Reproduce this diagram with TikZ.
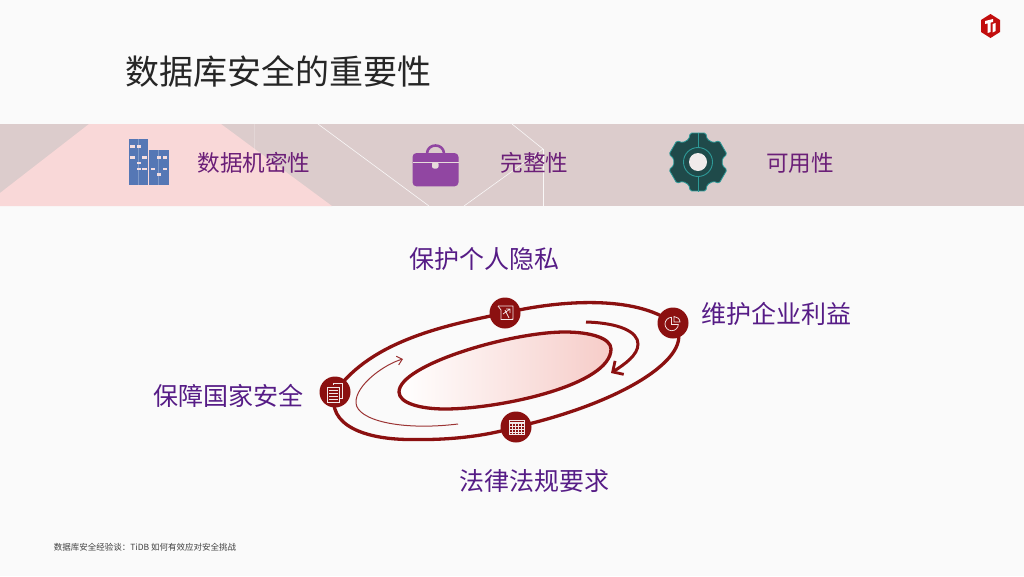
\documentclass[tikz,border=0pt]{standalone}
\usepackage{fontspec}
\setmainfont{Noto Sans CJK SC}
\usetikzlibrary{arrows.meta,backgrounds}
\definecolor{pagebg}{HTML}{FAFAFA}
\definecolor{bandc}{HTML}{DCCCCC}
\definecolor{pinkc}{HTML}{F9D8D8}
\definecolor{darkred}{HTML}{8B1010}
\definecolor{purpleA}{HTML}{6B1F78}
\definecolor{purpleB}{HTML}{561C86}
\definecolor{bluec}{HTML}{5577B5}
\definecolor{bagc}{HTML}{9146A2}
\definecolor{gearc}{HTML}{1F4A4A}
\definecolor{gearl}{HTML}{2E9A98}
\definecolor{winc}{HTML}{F4DDE0}
\definecolor{midpink}{HTML}{FBE8E6}
\definecolor{endpink}{HTML}{F6CCC8}
\tikzset{
  titletext/.style={text=black!85,inner sep=0pt,font=\fontsize{34}{40}\selectfont},
  bandtext/.style={text=purpleA,inner sep=0pt,font=\fontsize{22.6}{28}\selectfont},
  goaltext/.style={text=purpleB,inner sep=0pt,font=\fontsize{25}{30}\selectfont},
  foottext/.style={text=black!75,inner sep=0pt,font=\fontsize{8.5}{10}\selectfont},
  hub/.style={circle,fill=darkred,minimum size=31pt,inner sep=0pt},
  orbit/.style={draw=darkred,line width=3.3pt,line cap=round},
  win/.style={fill=winc,draw=none},
  ico/.style={draw=white!90!darkred,line width=.75pt},
  band/.style={draw=white,line width=.6pt,opacity=.85},
}
\begin{document}
\begin{tikzpicture}[x=1pt,y=-1pt]
\useasboundingbox (0,0) rectangle (1024,576);
% hub nodes
\node[hub] (nL) at (335,392) {};
\node[hub] (nT) at (505,313) {};
\node[hub] (nR) at (673,323) {};
\node[hub] (nB) at (516,427) {};
\coordinate (thinS) at (458,424);
\coordinate (thinE) at (403,359);
\coordinate (boldS) at (586,322);
\coordinate (boldE) at (611,373);
\begin{scope}[on background layer]
\fill[pagebg] (0,0) rectangle (1024,576);
\fill[bandc] (0,124) rectangle (1024,206);
\fill[pinkc] (0,193) -- (89,124) -- (221,124) -- (332,206) -- (0,206) -- cycle;
\draw[band] (318,124) -- (429,206);
\draw[band] (512,124) -- (543,149) -- (464,206);
\draw[band] (543,149) -- (543,206);
\draw[draw=white,line width=.4pt,opacity=.2] (254,124) -- (254,160);
% inner ellipse
\path[draw=darkred,line width=3.3pt,left color=white,middle color=midpink,right color=endpink]
  (611,349) .. controls (611,338) and (590,332) .. (565,332)
  .. controls (510,332) and (399,365) .. (399,392)
  .. controls (399,403) and (420,409) .. (445,409)
  .. controls (500,409) and (611,385) .. (611,349) -- cycle;
% outer orbit
\draw[orbit] (nL.center) .. controls (372,340) and (447,325) .. (nT.center);
\draw[orbit] (nT.center) .. controls (560,300) and (635,295) .. (nR.center);
\draw[orbit] (nR.center) .. controls (700,352) and (630,401) .. (nB.center);
\draw[orbit] (nB.center) .. controls (480,438) and (440,440) .. (413,439.5)
  .. controls (365,440) and (326,425) .. (nL.center);
% arrows
\draw[draw=darkred!85!white,line width=1pt,-{Straight Barb[length=5pt,width=9pt]}]
  (thinS) .. controls (400,431) and (357,420) .. (356,403)
  .. controls (355,385) and (385,364) .. (thinE);
\draw[draw=darkred,line width=3pt,-{Straight Barb[length=8pt,width=16pt,line width=2.8pt]}]
  (boldS) .. controls (620,323) and (638,332) .. (638,344)
  .. controls (638,355) and (625,364) .. (boldE);
\end{scope}
% hub icons
\begin{scope}[ico]
% documents
\draw (333,385) -- (333,383.5) -- (342,383.5) -- (342,398) -- (339.5,398);
\draw[fill=darkred] (327,387) rectangle (339.5,402);
\foreach \yy in {390,393,396,399} \draw (329,\yy) -- (337.5,\yy);
% map
\draw (498,306) -- (513,306) -- (513,319) -- (511,319.5);
\draw (498,306) -- (501,310) -- (501,319.5) -- (513,319.5);
\draw (503,314) -- (510,309) (506,309) -- (510,309) -- (510,313) (505,310) -- (509,318);
% pie
\draw (671.7,324) circle[radius=6.7];
\fill[darkred,draw=none] (671.7,324) rectangle (680,315);
\draw (671.7,317.3) -- (671.7,324) -- (678.4,324);
\draw (674,316.5) -- (674,322) -- (680,322) .. controls (680,319) and (677,316.5) .. (674,316.5) -- cycle;
% table
\draw (509,420) rectangle (524,434);
\draw[line width=1.2pt] (509,423) -- (524,423);
\foreach \yy in {426,429,432} \draw (509,\yy) -- (524,\yy);
\foreach \xx in {512,515,518,521} \draw (\xx,423) -- (\xx,434);
\end{scope}
% building icon
\fill[bluec] (129,139) rectangle (148,185);
\fill[bluec] (149,150) rectangle (168.5,185);
\draw[white,opacity=.25,line width=.4pt] (138.5,139) -- (138.5,185) (158.5,150) -- (158.5,185);
\foreach \xx/\yy in {130/145,136.5/145,130/156,142/156,136.5/161.5,136.5/167.5,142/167.5,
                     156.5/156,162.5/156,150.5/167.5,162.5/167.5,156.5/173}
  \fill[win] (\xx,\yy) rectangle ++(4.5,2.5);
% briefcase icon
\draw[bagc,line width=2.6pt] (427,153) .. controls (428,143) and (443,143) .. (444,153);
\fill[bagc,rounded corners=4pt] (412.5,153) rectangle (458.5,186.4);
\fill[white!30!bandc] (412.5,161.6) rectangle (458.5,162.9);
\fill[white!30!bandc,rounded corners=2pt] (432,162) rectangle (438.5,168.5);
% gear icon
\fill[gearc,draw=gearl,line width=.8pt,rounded corners=1.5pt,shift={(698,162)}]
  (68:24.5) -- (75:30) -- (105:30) -- (112:24.5)
  -- (128:24.5) -- (135:30) -- (165:30) -- (172:24.5)
  -- (188:24.5) -- (195:30) -- (225:30) -- (232:24.5)
  -- (248:24.5) -- (255:30) -- (285:30) -- (292:24.5)
  -- (308:24.5) -- (315:30) -- (345:30) -- (352:24.5)
  -- (8:24.5) -- (15:30) -- (45:30) -- (52:24.5) -- cycle;
\draw[gearl,line width=.9pt] (698,162) circle[radius=14.5];
\draw[gearl,line width=.9pt] (698,132.5) -- (698,147.5) (698,176.5) -- (698,191.5);
\fill[bandc!40!white] (698,162) circle[radius=9];
% logo
\fill[red!75!black!95!white] (990.5,14) -- (1000,20) -- (1000,32) -- (990.5,38) -- (981,32) -- (981,20) -- cycle;
\fill[white] (985,21) -- (993,19) -- (993,22) -- (990.5,22.6) -- (990.5,32) -- (987.5,33) -- (987.5,23.4) -- (985,24) -- cycle;
\fill[white] (992.5,24) -- (995.5,23) -- (995.5,31) -- (992.5,32.6) -- cycle;
% texts
\node[titletext] (title) at (278.3,71.5) {数据库安全的重要性};
\node[bandtext] (t1) at (254,163) {数据机密性};
\node[bandtext] (t2) at (534.5,163) {完整性};
\node[bandtext] (t3) at (800,163) {可用性};
\node[goaltext] (g1) at (484,259.5) {保护个人隐私};
\node[goaltext] (g2) at (776,313.5) {维护企业利益};
\node[goaltext] (g3) at (228,395.5) {保障国家安全};
\node[goaltext] (g4) at (534,481.5) {法律法规要求};
\node[foottext] (foot) at (145,547) {数据库安全经验谈：TiDB 如何有效应对安全挑战};
\end{tikzpicture}
\end{document}
